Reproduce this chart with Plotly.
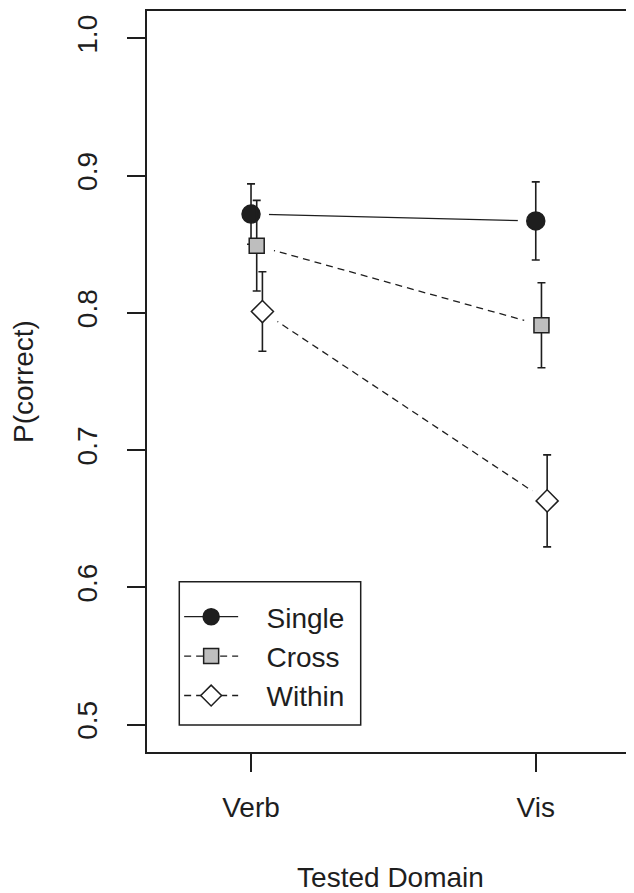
import plotly.graph_objects as go

# ---------------- data ----------------
domains = ["Verb", "Vis"]
conditions = ["Single", "Cross", "Within"]
single_mean = [0.872, 0.867]
single_err = [0.022, 0.0285]
cross_mean = [0.849, 0.791]
cross_err = [0.033, 0.031]
within_mean = [0.801, 0.663]
within_err = [0.029, 0.0335]
y_ticks = [0.5, 0.6, 0.7, 0.8, 0.9, 1.0]

means = {"Single": single_mean, "Cross": cross_mean, "Within": within_mean}
errs = {"Single": single_err, "Cross": cross_err, "Within": within_err}

# ---------------- styles ----------------
INK = "#1e1e1e"
FONT = "Liberation Sans, Arial, Helvetica, sans-serif"
jitter = {"Single": 0.0, "Cross": 0.02, "Within": 0.04}
styles = {
    "Single": dict(symbol="circle", size=18, color=INK, dash="solid"),
    "Cross": dict(symbol="square", size=15, color="#bebebe", dash="7px,5px"),
    "Within": dict(symbol="diamond", size=17, color="white", dash="7px,5px"),
}

def xs(cond):
    return [i + 1 + jitter[cond] for i in range(len(domains))]

fig = go.Figure()

# lines (drawn first)
for c in conditions:
    fig.add_trace(go.Scatter(
        x=xs(c), y=means[c], mode="lines",
        line=dict(color=INK, width=1.3, dash=styles[c]["dash"]),
        showlegend=False, hoverinfo="skip"))

# white halos to create the gaps around points (R type="b")
for c in conditions:
    fig.add_trace(go.Scatter(
        x=xs(c), y=means[c], mode="markers",
        marker=dict(symbol="circle", size=36, color="white", line=dict(width=0)),
        showlegend=False, hoverinfo="skip"))

# points with error bars
for c in conditions:
    st = styles[c]
    fig.add_trace(go.Scatter(
        x=xs(c), y=means[c], mode="markers",
        marker=dict(symbol=st["symbol"], size=st["size"], color=st["color"],
                    line=dict(color=INK, width=1.5)),
        error_y=dict(type="data", array=errs[c], visible=True,
                     color=INK, thickness=1.6, width=4),
        showlegend=False))

# legend entries
for c in conditions:
    st = styles[c]
    fig.add_trace(go.Scatter(
        x=[None], y=[None], mode="lines+markers",
        name="\u00a0\u00a0\u00a0" + c,
        line=dict(color=INK, width=1.3, dash=st["dash"]),
        marker=dict(symbol=st["symbol"], size=st["size"], color=st["color"],
                    line=dict(color=INK, width=1.5))))

# legend frame
fig.add_shape(type="rect", xref="paper", yref="paper",
              x0=0.0663, x1=0.4388, y0=0.0364, y1=0.2298,
              line=dict(color=INK, width=1.5), fillcolor="white", layer="above")

# page body has an 8px margin: figure is sized so the page fits the window
fig.update_layout(
    width=626, height=885,
    margin=dict(l=139, r=0, t=3, b=141),
    paper_bgcolor="white", plot_bgcolor="white",
    font=dict(family=FONT, size=28, color=INK),
    showlegend=True,
    legend=dict(
        x=0.066, y=0.2159, xanchor="left", yanchor="top",
        borderwidth=0, bgcolor="rgba(0,0,0,0)",
        itemwidth=54, font=dict(size=28, family=FONT, color=INK),
        tracegroupgap=0,
    ),
    xaxis=dict(
        range=[0.6347, 2.345],
        tickvals=[1, 2], ticktext=domains,
        ticks="outside", ticklen=18, tickwidth=1.5, tickcolor=INK,
        ticklabelstandoff=11,
        showline=True, linecolor=INK, linewidth=2, mirror=True,
        showgrid=False, zeroline=False,
        title=dict(text="Tested Domain", standoff=48,
                   font=dict(size=28, family=FONT, color=INK)),
        tickfont=dict(size=28, family=FONT, color=INK),
    ),
    yaxis=dict(
        range=[0.48, 1.02],
        tickvals=y_ticks, ticktext=[f"{v:.1f}" for v in y_ticks],
        tickangle=-90,
        ticks="outside", ticklen=18, tickwidth=1.5, tickcolor=INK,
        ticklabelstandoff=19,
        showline=True, linecolor=INK, linewidth=2, mirror=False,
        showgrid=False, zeroline=False,
        title=dict(text="P(correct)", standoff=30,
                   font=dict(size=28, family=FONT, color=INK)),
        tickfont=dict(size=28, family=FONT, color=INK),
    ),
)

fig.write_html("out.html")
